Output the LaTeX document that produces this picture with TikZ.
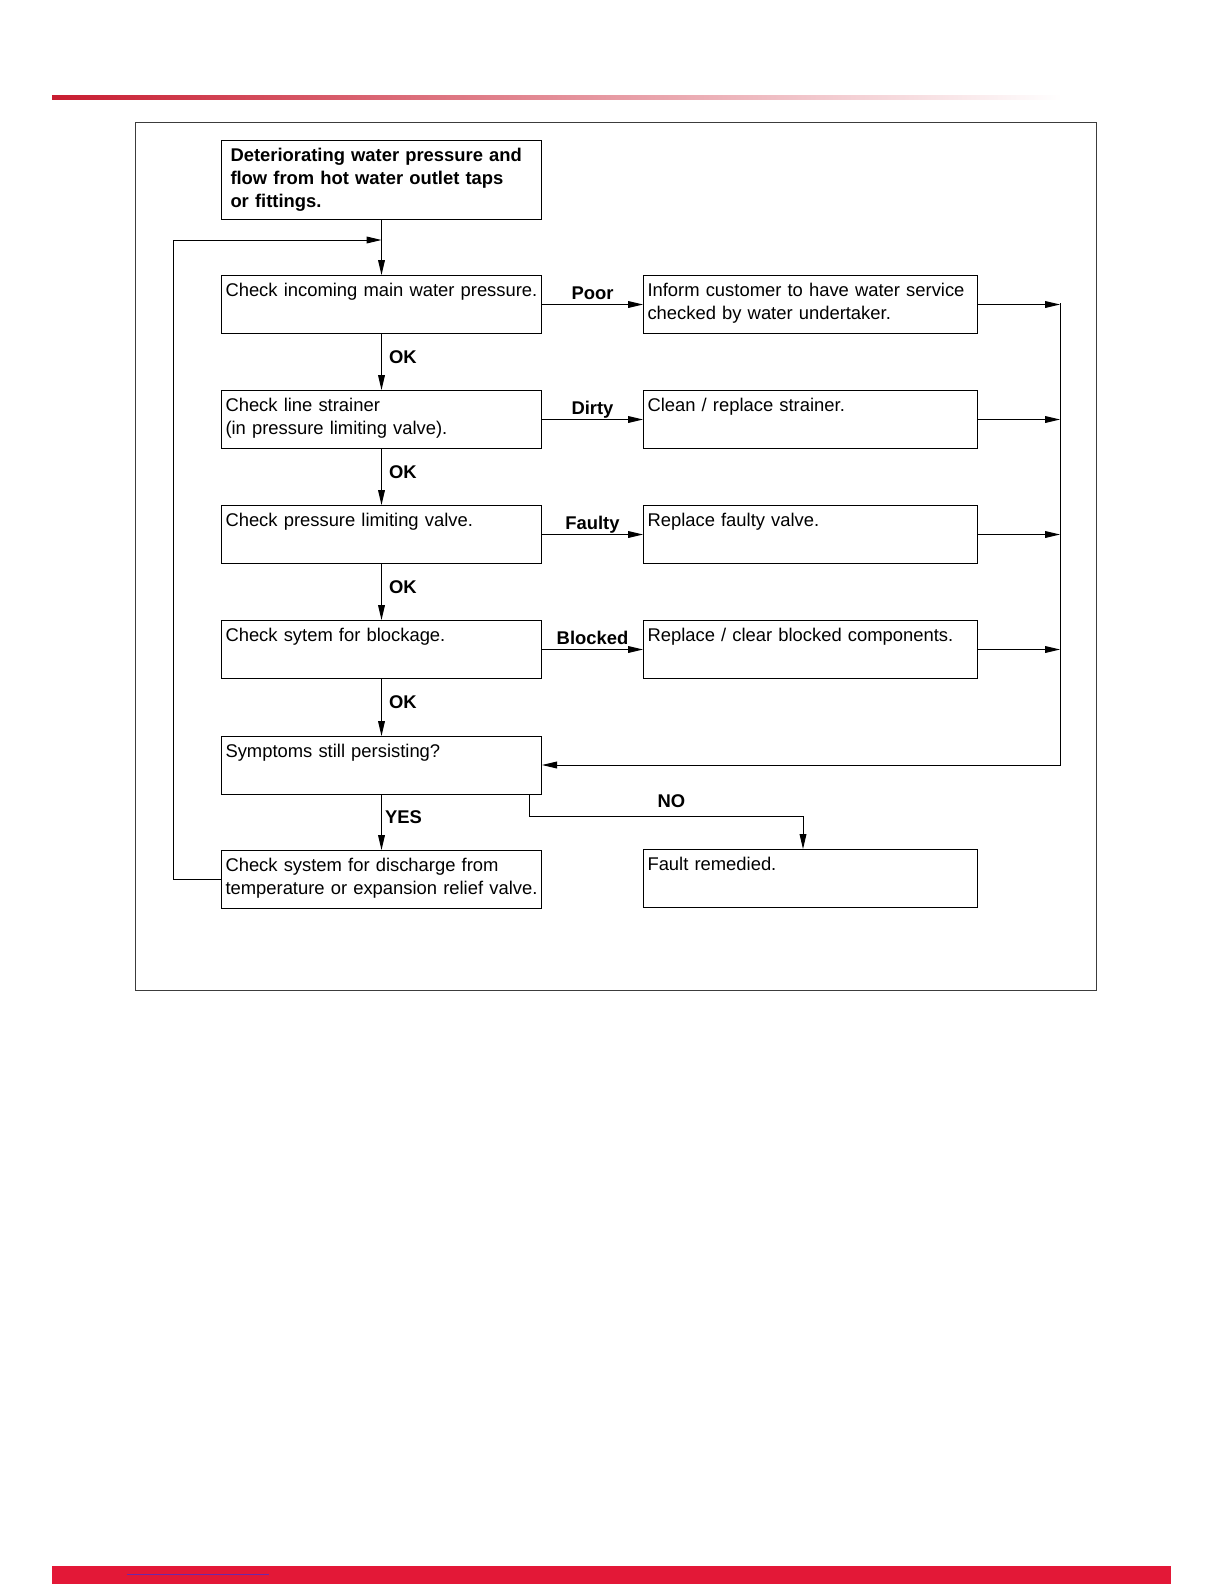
\documentclass[tikz,border=0pt]{standalone}
\usepackage{fontspec}
\setmainfont{Liberation Sans}
\usepackage{xcolor}
\usepackage{tikz}
\usetikzlibrary{arrows.meta,calc,positioning}
\definecolor{brandred}{RGB}{227,24,55}
\definecolor{rulered}{RGB}{200,28,48}
\definecolor{linkpurple}{RGB}{110,40,170}
\definecolor{framegray}{RGB}{60,60,60}
\newcommand{\chartfont}{\fontsize{9.2}{11.5}\selectfont}

\tikzset{
  stepbox/.style={draw, line width=0.5pt, anchor=north west, align=left,
    text width=156pt, inner xsep=2pt, inner ysep=3.5pt,
    text height=7pt, text depth=15pt},
  actionbox/.style={stepbox, text width=163pt},
  flow/.style={line width=0.5pt, -{Triangle[length=7.5pt,width=3.4pt]}},
  edgelabel/.style={font=\chartfont\bfseries, inner sep=1pt, text height=6.7pt, text depth=0pt}
}

\begin{document}
\begin{tikzpicture}[x=0.5pt, y=-0.5pt, line join=miter, font=\chartfont]
  \path[use as bounding box] (0,0) rectangle (1224,1584);

  % page decoration
  \shade[left color=rulered, middle color=rulered!75!white, right color=white]
    (52,95.5) rectangle (1062,99.5);
  \fill[brandred] (52,1566) rectangle (1171,1584);
  \draw[linkpurple, line width=0.8pt] (127,1574.5) -- (269,1574.5);

  % frame
  \draw[framegray, line width=0.5pt] (135,123) rectangle (1096,990);

  % left column
  \node[stepbox, font=\chartfont\bfseries, inner xsep=4.5pt, text width=151pt, text depth=25.5pt]
    (start) at (221,140)
    {Deteriorating water pressure and\\flow from hot water outlet taps\\or fittings.};
  \node[stepbox] (incoming)  at (221,275) {Check incoming main water pressure.};
  \node[stepbox] (strainer)  at (221,390) {Check line strainer\\(in pressure limiting valve).};
  \node[stepbox] (plv)       at (221,505) {Check pressure limiting valve.};
  \node[stepbox] (blockage)  at (221,620) {Check sytem for blockage.};
  \node[stepbox] (persist)   at (221,736) {Symptoms still persisting?};
  \node[stepbox] (discharge) at (221,850)
    {Check system for discharge from\\temperature or expansion relief valve.};

  % right column
  \node[actionbox] (inform)   at (643,275)
    {Inform customer to have water service\\checked by water undertaker.};
  \node[actionbox] (clean)    at (643,390) {Clean / replace strainer.};
  \node[actionbox] (replacev) at (643,505) {Replace faulty valve.};
  \node[actionbox] (clear)    at (643,620) {Replace / clear blocked components.};
  \node[actionbox] (fixed)    at (643,849) {Fault remedied.};

  \coordinate (loopin) at (start.south |- 0,240);
  \coordinate (bustop) at (1060,303);
  \coordinate (busbot) at (1060,765);
  \coordinate (nostart) at ([xshift=-6.5pt]persist.south east);
  \coordinate (noturn) at (803,816);

  % main line
  \draw[flow] (start.south) -- (incoming.north);
  \draw[flow] (incoming.south) -- node[edgelabel, pos=0.4, right=2.5pt] {OK} (strainer.north);
  \draw[flow] (strainer.south) -- node[edgelabel, pos=0.4, right=2.5pt] {OK} (plv.north);
  \draw[flow] (plv.south) -- node[edgelabel, pos=0.4, right=2.5pt] {OK} (blockage.north);
  \draw[flow] (blockage.south) -- node[edgelabel, pos=0.4, right=2.5pt] {OK} (persist.north);
  \draw[flow] (persist.south) -- node[edgelabel, pos=0.4, right=0.5pt] {YES} (discharge.north);

  % faults
  \draw[flow] (incoming) -- node[edgelabel, above=1.5pt] {Poor} (inform);
  \draw[flow] (strainer) -- node[edgelabel, above=1.5pt] {Dirty} (clean);
  \draw[flow] (plv) -- node[edgelabel, above=1.5pt] {Faulty} (replacev);
  \draw[flow] (blockage) -- node[edgelabel, above=1.5pt] {Blocked} (clear);

  % back to the check
  \draw[flow] (inform.east) -- (inform.east -| bustop);
  \draw[flow] (clean.east) -- (clean.east -| bustop);
  \draw[flow] (replacev.east) -- (replacev.east -| bustop);
  \draw[flow] (clear.east) -- (clear.east -| bustop);
  \draw[flow] (bustop) -- (busbot) -- (persist.east |- busbot);

  \draw[flow] (nostart) |- node[edgelabel, pos=0.76, above=3pt] {NO} (noturn)
    -- (noturn |- fixed.north);
  \draw[flow] (discharge.west) -- ++(-48,0) |- (loopin);

\end{tikzpicture}
\end{document}
